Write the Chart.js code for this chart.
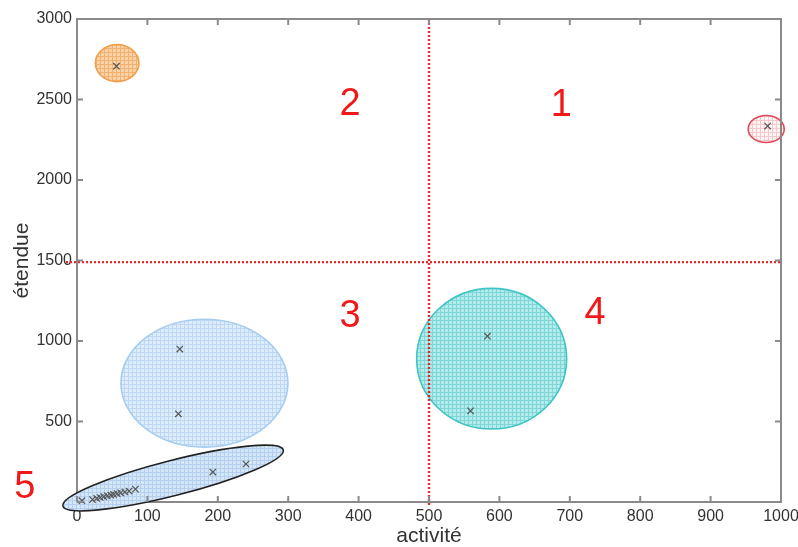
<!DOCTYPE html>
<html>
<head>
<meta charset="utf-8">
<script src="https://cdn.jsdelivr.net/npm/chart.js@4/dist/chart.umd.min.js"></script>
<style>
html,body{margin:0;padding:0;background:#fff;}
canvas{display:block;}
</style>
</head>
<body>
<canvas id="c" width="798" height="547"></canvas>
<script>
// ---- data ----
const xTickLabels = ['0','100','200','300','400','500','600','700','800','900','1000'];
const yTickLabels = ['','500','1000','1500','2000','2500','3000'];
const groupOrange = [{x:56,y:2707}];
const groupRed = [{x:981,y:2335}];
const groupTeal = [{x:583,y:1030},{x:559,y:566}];
const groupBlue = [{x:146,y:950},{x:144,y:548}];
const groupFive = [{x:7,y:8},{x:22,y:15},{x:28,y:22},{x:33,y:28},{x:38,y:33},{x:43,y:38},{x:48,y:43},{x:52,y:47},{x:57,y:52},{x:62,y:57},{x:68,y:62},{x:74,y:68},{x:83,y:80},{x:193,y:186},{x:240,y:236}];
const groupFiveCircle = [{x:-12,y:2}];
const thresholdX = 500;
const thresholdY = 1490;
const quadrantLabels = ['1','2','3','4','5'];
const quadrantLabelPos = [{x:688,y:2460},{x:388,y:2470},{x:388,y:1150},{x:736,y:1170},{x:-74,y:90}];

// region ellipses (data units)
const regions = [
  {cx:57, cy:2726, rx:31, ry:115, bg:'#fbd3a6', line:'#f2b170', stroke:'#f0a050'},
  {cx:979, cy:2317, rx:25.6, ry:84, bg:'#fdf4f4', line:'#f6c8cc', stroke:'#e24a5a'},
  {cx:589, cy:890, rx:106.5, ry:437, bg:'#b4ecec', line:'#7ed6d6', stroke:'#3fc3c3'},
  {cx:181, cy:738, rx:118.6, ry:397, bg:'#deedfb', line:'#bed8f3', stroke:'#a6cdf0'},
  {from:{x:-20,y:-25}, to:{x:293,y:323}, halfY:113, bg:'#d4e6f8', line:'#b5d0ee', stroke:'#222222'}
];

function makePattern(ctx, bg, line){
  const c=document.createElement('canvas'); c.width=4; c.height=4;
  const g=c.getContext('2d');
  g.fillStyle=bg; g.fillRect(0,0,4,4);
  g.fillStyle=line; g.fillRect(0,0,4,1); g.fillRect(0,0,1,4);
  return ctx.createPattern(c,'repeat');
}

const regionPlugin = {
  id:'regions',
  beforeDatasetsDraw(chart){
    const {ctx, scales:{x,y}, chartArea:ca} = chart;
    ctx.save();
    regions.forEach(r=>{
      let cx,cy,rx,ry,rot=0;
      if(r.from){
        const x1=x.getPixelForValue(r.from.x), y1=y.getPixelForValue(r.from.y);
        const x2=x.getPixelForValue(r.to.x), y2=y.getPixelForValue(r.to.y);
        cx=(x1+x2)/2; cy=(y1+y2)/2;
        rx=Math.hypot(x2-x1,y2-y1)/2;
        ry=Math.abs(y.getPixelForValue(0)-y.getPixelForValue(r.halfY))*Math.cos(Math.atan2(y2-y1,x2-x1));
        rot=Math.atan2(y2-y1,x2-x1);
      } else {
        cx=x.getPixelForValue(r.cx); cy=y.getPixelForValue(r.cy);
        rx=Math.abs(x.getPixelForValue(r.cx+r.rx)-cx);
        ry=Math.abs(y.getPixelForValue(r.cy+r.ry)-cy);
      }
      ctx.beginPath();
      ctx.ellipse(cx,cy,rx,ry,rot,0,Math.PI*2);
      ctx.fillStyle=makePattern(ctx,r.bg,r.line);
      ctx.fill();
      ctx.lineWidth=1.6;
      ctx.strokeStyle=r.stroke;
      ctx.stroke();
    });
    // red dotted threshold lines
    ctx.strokeStyle='#e82828';
    ctx.lineWidth=2.4;
    ctx.setLineDash([2,2]);
    const px=x.getPixelForValue(thresholdX);
    ctx.beginPath(); ctx.moveTo(px,ca.top); ctx.lineTo(px,ca.bottom+3); ctx.stroke();
    const py=y.getPixelForValue(thresholdY);
    ctx.beginPath(); ctx.moveTo(ca.left-11,py); ctx.lineTo(ca.right,py); ctx.stroke();
    ctx.restore();
  },
  afterDraw(chart){
    const {ctx, scales:{x,y}, chartArea:ca} = chart;
    ctx.save();
    ctx.strokeStyle='#8a8a8a';
    ctx.lineWidth=2;
    ctx.beginPath();
    ctx.moveTo(ca.left,ca.top); ctx.lineTo(ca.right,ca.top); ctx.lineTo(ca.right,ca.bottom);
    ctx.stroke();
    const tl=6;
    ctx.beginPath();
    x.ticks.forEach(t=>{
      const p=x.getPixelForValue(t.value);
      ctx.moveTo(p,ca.bottom); ctx.lineTo(p,ca.bottom-tl);
      ctx.moveTo(p,ca.top); ctx.lineTo(p,ca.top+tl);
    });
    y.ticks.forEach(t=>{
      const p=y.getPixelForValue(t.value);
      ctx.moveTo(ca.left,p); ctx.lineTo(ca.left+tl,p);
      ctx.moveTo(ca.right,p); ctx.lineTo(ca.right-tl,p);
    });
    ctx.stroke();
    ctx.fillStyle='#f01818';
    ctx.font='38px "Liberation Sans", Arial, sans-serif';
    ctx.textAlign='center'; ctx.textBaseline='middle';
    quadrantLabels.forEach((s,i)=>{
      ctx.fillText(s, x.getPixelForValue(quadrantLabelPos[i].x), y.getPixelForValue(quadrantLabelPos[i].y));
    });
    ctx.restore();
  }
};

const markerStyle = {pointStyle:'crossRot', pointRadius:4.5, borderColor:'#555', borderWidth:1.2, backgroundColor:'#555', showLine:false, clip:false};

new Chart(document.getElementById('c'), {
  type:'scatter',
  data:{datasets:[
    Object.assign({label:'orange', data:groupOrange}, markerStyle),
    Object.assign({label:'red', data:groupRed}, markerStyle),
    Object.assign({label:'teal', data:groupTeal}, markerStyle),
    Object.assign({label:'blue', data:groupBlue}, markerStyle),
    Object.assign({label:'five', data:groupFive}, markerStyle),
    {label:'fiveCircle', data:groupFiveCircle, pointStyle:'circle', pointRadius:4, borderColor:'#333', borderWidth:1.5, backgroundColor:'rgba(0,0,0,0)', clip:false}
  ]},
  options:{
    responsive:false,
    animation:false,
    layout:{padding:{left:0,right:17,top:19,bottom:0}},
    plugins:{legend:{display:false}, tooltip:{enabled:false}},
    scales:{
      x:{
        type:'linear', min:0, max:1000,
        afterFit(s){ s.height=45; s.paddingLeft=0; s.paddingRight=0; },
        grid:{display:false, drawTicks:false},
        border:{display:true, color:'#8a8a8a', width:2},
        ticks:{stepSize:100, padding:5, color:'#333', font:{family:'"Liberation Sans", Arial, sans-serif', size:16},
               callback:(v,i)=>xTickLabels[i]},
        title:{display:true, text:'activité', color:'#333', font:{family:'"Liberation Sans", Arial, sans-serif', size:21, lineHeight:1}, padding:{top:0,bottom:0}}
      },
      y:{
        type:'linear', min:0, max:3000,
        afterFit(s){ s.width=77; s.paddingTop=0; s.paddingBottom=0; },
        grid:{display:false, drawTicks:false},
        border:{display:true, color:'#8a8a8a', width:2},
        ticks:{stepSize:500, padding:5, color:'#333', font:{family:'"Liberation Sans", Arial, sans-serif', size:16},
               callback:(v,i)=>yTickLabels[i]},
        title:{display:true, text:'étendue', color:'#333', font:{family:'"Liberation Sans", Arial, sans-serif', size:21, lineHeight:1}, padding:{top:12,bottom:0}}
      }
    }
  },
  plugins:[regionPlugin]
});
</script>
</body>
</html>
